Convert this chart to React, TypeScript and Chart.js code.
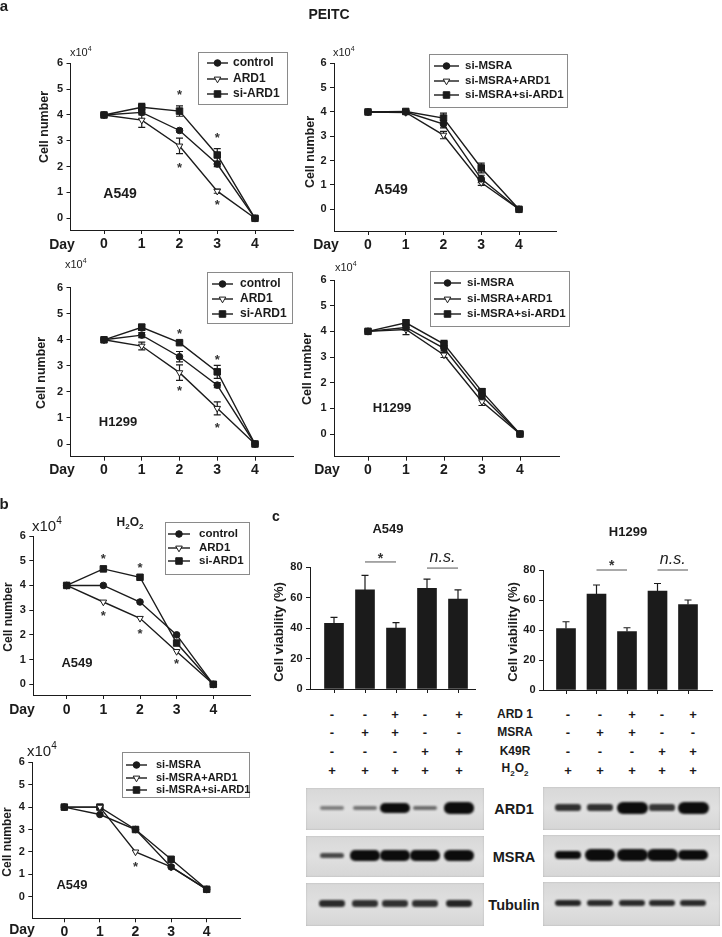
import React, { useEffect, useRef } from "react";
import { Chart, registerables } from "chart.js";
Chart.register(...registerables);

const W = 722;
const H = 937;
const FONT = '"Liberation Sans", Arial, Helvetica, sans-serif';
const INK = "#1b1b1b";

// ---------- shared axes ----------
const days = [0, 1, 2, 3, 4];
const cellTicks = [0, 1, 2, 3, 4, 5, 6];
const viabilityTicks = [0, 20, 40, 60, 80];
const lanes = [0, 1, 2, 3, 4];

// ---------- panel a : PEITC ----------
const ardNames = ["control", "ARD1", "si-ARD1"];
const msraNames = ["si-MSRA", "si-MSRA+ARD1", "si-MSRA+si-ARD1"];

const peitcA549Control = [4, 4.1, 3.4, 2.1, 0];
const peitcA549Ard1 = [4, 3.8, 2.8, 1.05, 0];
const peitcA549SiArd1 = [4, 4.3, 4.15, 2.45, 0];
const peitcA549ControlErr = [0, 0.1, 0.06, 0.1, 0];
const peitcA549Ard1Err = [0, 0.28, 0.3, 0.08, 0];
const peitcA549SiArd1Err = [0, 0.15, 0.2, 0.25, 0];
const peitcA549Stars = [[2, 4.85], [2, 2.05], [3, 3.2], [3, 0.6]];

const peitcA549SiMsra = [4, 4, 3.5, 1.25, 0];
const peitcA549SiMsraArd1 = [4, 3.98, 3.05, 1.1, 0];
const peitcA549SiMsraSiArd1 = [4, 4.02, 3.75, 1.7, 0];
const peitcA549SiMsraErr = [0, 0.05, 0.15, 0.15, 0];
const peitcA549SiMsraArd1Err = [0, 0.05, 0.15, 0.12, 0];
const peitcA549SiMsraSiArd1Err = [0, 0.05, 0.2, 0.2, 0];

const peitcH1299Control = [4, 4.18, 3.35, 2.26, 0];
const peitcH1299Ard1 = [4, 3.76, 2.74, 1.37, 0];
const peitcH1299SiArd1 = [4, 4.48, 3.89, 2.77, 0];
const peitcH1299ControlErr = [0, 0.1, 0.2, 0.1, 0];
const peitcH1299Ard1Err = [0, 0.15, 0.3, 0.25, 0];
const peitcH1299SiArd1Err = [0, 0.12, 0.05, 0.25, 0];
const peitcH1299Stars = [[2, 4.32], [2, 2.13], [3, 3.32], [3, 0.7]];

const peitcH1299SiMsra = [4, 4.15, 3.34, 1.48, 0];
const peitcH1299SiMsraArd1 = [4, 4.07, 3.08, 1.26, 0];
const peitcH1299SiMsraSiArd1 = [4, 4.33, 3.5, 1.65, 0];
const peitcH1299SiMsraErr = [0, 0.1, 0.1, 0.1, 0];
const peitcH1299SiMsraArd1Err = [0, 0.2, 0.1, 0.15, 0];
const peitcH1299SiMsraSiArd1Err = [0, 0.12, 0.15, 0.12, 0];

// ---------- panel b : H2O2 ----------
const h2o2Control = [4, 4, 3.33, 2.0, 0];
const h2o2Ard1 = [4, 3.33, 2.67, 1.33, 0];
const h2o2SiArd1 = [4, 4.67, 4.33, 1.67, 0];
const h2o2ArdStars = [[1, 5.15], [1, 2.87], [2, 4.8], [2, 2.12], [3, 0.92]];

const h2o2SiMsra = [4, 3.67, 3.0, 1.33, 0.33];
const h2o2SiMsraArd1 = [4, 4, 2.0, 1.33, 0.33];
const h2o2SiMsraSiArd1 = [4, 4, 3.0, 1.67, 0.33];
const h2o2MsraStars = [[2, 1.45]];

// ---------- panel c : viability ----------
const viabilityA549 = [43, 65, 40, 66, 59];
const viabilityA549Err = [4, 9.5, 3.5, 6, 6];
const viabilityH1299 = [41, 64, 39, 66, 57];
const viabilityH1299Err = [4.5, 6, 2.5, 5, 3];

const ard1Signs = ["-", "-", "+", "-", "+"];
const msraSigns = ["-", "+", "+", "-", "-"];
const k49rSigns = ["-", "-", "-", "+", "+"];
const h2o2Signs = ["+", "+", "+", "+", "+"];

// relative band amounts on the blots
const blotA549Ard1 = [0.12, 0.15, 0.85, 0.18, 0.9];
const blotA549Msra = [0.3, 0.8, 0.8, 0.8, 0.9];
const blotA549Tubulin = [0.4, 0.38, 0.38, 0.38, 0.42];
const blotH1299Ard1 = [0.38, 0.38, 1.0, 0.36, 1.0];
const blotH1299Msra = [0.5, 0.92, 1.0, 1.0, 0.8];
const blotH1299Tubulin = [0.42, 0.4, 0.4, 0.4, 0.4];

// ---------- drawing helpers ----------
type Seg = { t: string; sup?: boolean; sub?: boolean };
type Txt = {
  s: string | Seg[];
  x: number;
  y: number;
  size: number;
  weight?: string;
  italic?: boolean;
  rot?: boolean;
  align?: "left" | "center";
};

function drawTxt(ctx: CanvasRenderingContext2D, t: Txt) {
  const segs: Seg[] = typeof t.s === "string" ? [{ t: t.s }] : t.s;
  const w = t.weight ?? "bold";
  const fontFor = (g: Seg) =>
    `${t.italic ? "italic " : ""}${w} ${g.sup || g.sub ? Math.round(t.size * 0.68) : t.size}px ${FONT}`;
  ctx.save();
  ctx.fillStyle = INK;
  ctx.textBaseline = "middle";
  ctx.textAlign = "left";
  let total = 0;
  const widths = segs.map((g) => {
    ctx.font = fontFor(g);
    const m = ctx.measureText(g.t).width;
    total += m;
    return m;
  });
  ctx.translate(t.x, t.y);
  if (t.rot) ctx.rotate(-Math.PI / 2);
  let x = t.align === "left" ? 0 : -total / 2;
  segs.forEach((g, i) => {
    ctx.font = fontFor(g);
    const dy = g.sup ? -t.size * 0.38 : g.sub ? t.size * 0.3 : 0;
    ctx.fillText(g.t, x, dy);
    x += widths[i];
  });
  ctx.restore();
}

const markers = [
  { style: "circle", r: 3.3, fill: INK, rot: 0 },
  { style: "triangle", r: 3.8, fill: "#ffffff", rot: 180 },
  { style: "rect", r: 4.6, fill: INK, rot: 0 },
];

function drawMarker(ctx: CanvasRenderingContext2D, m: any, x: number, y: number) {
  ctx.beginPath();
  if (m.style === "circle") ctx.arc(x, y, m.r, 0, Math.PI * 2);
  else if (m.style === "rect") {
    const s = m.r * Math.SQRT1_2;
    ctx.rect(x - s, y - s, 2 * s, 2 * s);
  } else {
    let a = (m.rot * Math.PI) / 180;
    ctx.moveTo(x + Math.sin(a) * m.r, y - Math.cos(a) * m.r);
    a += (2 * Math.PI) / 3;
    ctx.lineTo(x + Math.sin(a) * m.r, y - Math.cos(a) * m.r);
    a += (2 * Math.PI) / 3;
    ctx.lineTo(x + Math.sin(a) * m.r, y - Math.cos(a) * m.r);
    ctx.closePath();
  }
  ctx.fillStyle = m.fill;
  ctx.fill();
  ctx.strokeStyle = INK;
  ctx.lineWidth = 1;
  ctx.stroke();
}

function drawStar(ctx: CanvasRenderingContext2D, x: number, y: number, size: number) {
  ctx.save();
  ctx.fillStyle = "#333";
  ctx.font = `bold ${size}px ${FONT}`;
  ctx.textAlign = "center";
  ctx.textBaseline = "middle";
  ctx.fillText("*", x, y + size * 0.22);
  ctx.restore();
}

const YW = 30;
const XH = 30;

function axisCommon(size: number, pad: number) {
  return {
    grid: { display: true, drawOnChartArea: false, drawTicks: true, tickLength: 4, color: INK, tickColor: INK, lineWidth: 1, offset: false },
    border: { display: true, color: INK, width: 1 },
    ticks: { font: { family: FONT, size, weight: "bold" }, color: INK, padding: pad, maxRotation: 0, autoSkip: false },
  };
}

type LinePanel = {
  names: string[];
  series: number[][];
  errors?: number[][];
  stars: number[][];
  starSize: number;
  frame: { px0: number; px4: number; py0: number; py6: number; left: number; right: number; bottom: number };
  xFont: number;
  xPad: number;
  yFont: number;
  legend: { x: number; y: number; w: number; h: number; rows: number[]; l0: number; l1: number; tx: number; size: number };
  texts: Txt[];
};

function lineConfig(p: LinePanel): any {
  const f = p.frame;
  const sx = (f.px4 - f.px0) / 4;
  const sy = (f.py0 - f.py6) / 6;
  const xmin = (f.left - f.px0) / sx;
  const xmax = (f.right - f.px0) / sx;
  const ymin = -(f.bottom - f.py0) / sy;
  const xa = axisCommon(p.xFont, p.xPad);
  const ya = axisCommon(p.yFont, 3.5);
  const plugin = {
    id: "decor",
    beforeDatasetsDraw(chart: any) {
      if (!p.errors) return;
      const ctx = chart.ctx as CanvasRenderingContext2D;
      const xs = chart.scales.x;
      const ys = chart.scales.y;
      ctx.save();
      ctx.strokeStyle = INK;
      ctx.lineWidth = 1.2;
      p.errors.forEach((errs, i) => {
        errs.forEach((e, j) => {
          if (!e) return;
          const v = p.series[i][j];
          const x = xs.getPixelForValue(days[j]);
          const y1 = ys.getPixelForValue(v + e);
          const y2 = ys.getPixelForValue(v - e);
          ctx.beginPath();
          ctx.moveTo(x, y1);
          ctx.lineTo(x, y2);
          ctx.moveTo(x - 3.5, y1);
          ctx.lineTo(x + 3.5, y1);
          ctx.moveTo(x - 3.5, y2);
          ctx.lineTo(x + 3.5, y2);
          ctx.stroke();
        });
      });
      ctx.restore();
    },
    afterDraw(chart: any) {
      const ctx = chart.ctx as CanvasRenderingContext2D;
      const xs = chart.scales.x;
      const ys = chart.scales.y;
      p.stars.forEach(([d, v]) => drawStar(ctx, xs.getPixelForValue(d), ys.getPixelForValue(v), p.starSize));
      const L = p.legend;
      ctx.save();
      ctx.strokeStyle = "#8a8a8a";
      ctx.lineWidth = 1;
      ctx.strokeRect(L.x + 0.5, L.y + 0.5, L.w, L.h);
      ctx.restore();
      p.names.forEach((n, i) => {
        const y = L.rows[i];
        ctx.save();
        ctx.strokeStyle = INK;
        ctx.lineWidth = 1.4;
        ctx.beginPath();
        ctx.moveTo(L.l0, y);
        ctx.lineTo(L.l1, y);
        ctx.stroke();
        drawMarker(ctx, markers[i], (L.l0 + L.l1) / 2, y);
        ctx.restore();
        drawTxt(ctx, { s: n, x: L.tx, y, size: L.size, align: "left" });
      });
      p.texts.forEach((t) => drawTxt(ctx, t));
    },
  };
  return {
    type: "line",
    data: {
      datasets: p.series.map((vals, i) => ({
        label: p.names[i],
        data: days.map((d, j) => ({ x: d, y: vals[j] })),
        borderColor: INK,
        borderWidth: 1.4,
        pointStyle: markers[i].style,
        pointRadius: markers[i].r,
        pointRotation: markers[i].rot,
        pointBackgroundColor: markers[i].fill,
        pointBorderColor: INK,
        pointBorderWidth: 1,
        tension: 0,
        fill: false,
        clip: false,
      })),
    },
    options: {
      responsive: false,
      animation: false,
      events: [],
      layout: { padding: { left: f.left - YW, right: W - f.right, top: f.py6, bottom: H - f.bottom - XH } },
      plugins: { legend: { display: false }, tooltip: { enabled: false }, title: { display: false } },
      scales: {
        x: {
          type: "linear",
          min: xmin,
          max: xmax,
          offset: false,
          afterBuildTicks: (s: any) => {
            s.ticks = days.map((v) => ({ value: v }));
          },
          afterFit: (s: any) => {
            s.height = XH;
          },
          ...xa,
        },
        y: {
          type: "linear",
          min: ymin,
          max: 6,
          afterBuildTicks: (s: any) => {
            s.ticks = cellTicks.map((v) => ({ value: v }));
          },
          afterFit: (s: any) => {
            s.width = YW;
          },
          ...ya,
        },
      },
    },
    plugins: [plugin],
  };
}

type Bracket = { from: number; to: number; level: number; label: string; labelAt: number; italic: boolean; size: number };
type BarPanel = {
  values: number[];
  errors: number[];
  brackets: Bracket[];
  frame: { px0: number; px4: number; left: number; right: number; top: number; bottom: number };
  texts: Txt[];
};

function barConfig(p: BarPanel): any {
  const f = p.frame;
  const sx = (f.px4 - f.px0) / 4;
  const xmin = (f.left - f.px0) / sx;
  const xmax = (f.right - f.px0) / sx;
  const xa = axisCommon(10, 2);
  const ya = axisCommon(11, 3.5);
  const plugin = {
    id: "decorBar",
    afterDraw(chart: any) {
      const ctx = chart.ctx as CanvasRenderingContext2D;
      const xs = chart.scales.x;
      const ys = chart.scales.y;
      ctx.save();
      ctx.strokeStyle = INK;
      ctx.lineWidth = 1.2;
      p.errors.forEach((e, j) => {
        const x = xs.getPixelForValue(lanes[j]);
        const y1 = ys.getPixelForValue(p.values[j]);
        const y2 = ys.getPixelForValue(p.values[j] + e);
        ctx.beginPath();
        ctx.moveTo(x, y1);
        ctx.lineTo(x, y2);
        ctx.moveTo(x - 3.5, y2);
        ctx.lineTo(x + 3.5, y2);
        ctx.stroke();
      });
      ctx.strokeStyle = "#555";
      ctx.lineWidth = 1;
      p.brackets.forEach((b) => {
        const y = ys.getPixelForValue(b.level);
        ctx.beginPath();
        ctx.moveTo(xs.getPixelForValue(b.from), y);
        ctx.lineTo(xs.getPixelForValue(b.to), y);
        ctx.stroke();
      });
      ctx.restore();
      p.brackets.forEach((b) => {
        const x = (xs.getPixelForValue(b.from) + xs.getPixelForValue(b.to)) / 2;
        const y = ys.getPixelForValue(b.labelAt);
        if (b.label === "*") drawStar(ctx, x, y, b.size);
        else drawTxt(ctx, { s: b.label, x, y, size: b.size, weight: "normal", italic: b.italic });
      });
      p.texts.forEach((t) => drawTxt(ctx, t));
    },
  };
  return {
    type: "bar",
    data: {
      datasets: [
        {
          data: lanes.map((l, j) => ({ x: l, y: p.values[j] })),
          backgroundColor: INK,
          borderWidth: 0,
          barThickness: 19,
        },
      ],
    },
    options: {
      responsive: false,
      animation: false,
      events: [],
      layout: { padding: { left: f.left - YW, right: W - f.right, top: f.top, bottom: H - f.bottom - XH } },
      plugins: { legend: { display: false }, tooltip: { enabled: false } },
      scales: {
        x: {
          type: "linear",
          min: xmin,
          max: xmax,
          offset: false,
          afterBuildTicks: (s: any) => {
            s.ticks = lanes.map((v) => ({ value: v }));
          },
          afterFit: (s: any) => {
            s.height = XH;
          },
          ...xa,
          ticks: { ...xa.ticks, callback: () => "" },
        },
        y: {
          type: "linear",
          min: 0,
          max: 80,
          afterBuildTicks: (s: any) => {
            s.ticks = viabilityTicks.map((v) => ({ value: v }));
          },
          afterFit: (s: any) => {
            s.width = YW;
          },
          ...ya,
        },
      },
    },
    plugins: [plugin],
  };
}

const x104: Seg[] = [{ t: "x10" }, { t: "4", sup: true }];

const panels: any[] = [
  lineConfig({
    names: ardNames,
    series: [peitcA549Control, peitcA549Ard1, peitcA549SiArd1],
    errors: [peitcA549ControlErr, peitcA549Ard1Err, peitcA549SiArd1Err],
    stars: peitcA549Stars,
    starSize: 13,
    frame: { px0: 104, px4: 255, py0: 218.3, py6: 63.3, left: 70.5, right: 293, bottom: 230 },
    xFont: 14,
    xPad: 2,
    yFont: 11,
    legend: { x: 198, y: 52, w: 89, h: 52, rows: [63, 79, 94], l0: 207, l1: 228, tx: 233, size: 12 },
    texts: [
      { s: "a", x: 4, y: 7, size: 15 },
      { s: "PEITC", x: 329, y: 15, size: 14 },
      { s: x104, x: 70, y: 53, size: 11, weight: "normal", align: "left" },
      { s: "Cell number", x: 45, y: 127, size: 12.5, rot: true },
      { s: "A549", x: 120, y: 194, size: 14 },
      { s: "Day", x: 62, y: 245, size: 14 },
    ],
  }),
  lineConfig({
    names: msraNames,
    series: [peitcA549SiMsra, peitcA549SiMsraArd1, peitcA549SiMsraSiArd1],
    errors: [peitcA549SiMsraErr, peitcA549SiMsraArd1Err, peitcA549SiMsraSiArd1Err],
    stars: [],
    starSize: 13,
    frame: { px0: 368, px4: 519, py0: 209.3, py6: 63.3, left: 334, right: 556, bottom: 231 },
    xFont: 14,
    xPad: 2,
    yFont: 11,
    legend: { x: 429, y: 54, w: 138, h: 53, rows: [66, 81, 95], l0: 434, l1: 459, tx: 465, size: 11.5 },
    texts: [
      { s: x104, x: 333, y: 53, size: 11, weight: "normal", align: "left" },
      { s: "Cell number", x: 311, y: 152, size: 12.5, rot: true },
      { s: "A549", x: 391, y: 190, size: 14 },
      { s: "Day", x: 326, y: 245, size: 14 },
    ],
  }),
  lineConfig({
    names: ardNames,
    series: [peitcH1299Control, peitcH1299Ard1, peitcH1299SiArd1],
    errors: [peitcH1299ControlErr, peitcH1299Ard1Err, peitcH1299SiArd1Err],
    stars: peitcH1299Stars,
    starSize: 13,
    frame: { px0: 104, px4: 255, py0: 444, py6: 287.7, left: 70.5, right: 293, bottom: 456.7 },
    xFont: 14,
    xPad: 1,
    yFont: 11,
    legend: { x: 207, y: 272, w: 85, h: 51, rows: [284, 299, 314], l0: 212, l1: 233, tx: 240, size: 12 },
    texts: [
      { s: x104, x: 65, y: 265, size: 11, weight: "normal", align: "left" },
      { s: "Cell number", x: 42, y: 373, size: 12.5, rot: true },
      { s: "H1299", x: 118, y: 422, size: 13 },
      { s: "Day", x: 62, y: 470, size: 14 },
    ],
  }),
  lineConfig({
    names: msraNames,
    series: [peitcH1299SiMsra, peitcH1299SiMsraArd1, peitcH1299SiMsraSiArd1],
    errors: [peitcH1299SiMsraErr, peitcH1299SiMsraArd1Err, peitcH1299SiMsraSiArd1Err],
    stars: [],
    starSize: 13,
    frame: { px0: 368, px4: 520, py0: 434, py6: 280, left: 334, right: 559, bottom: 456.7 },
    xFont: 14,
    xPad: 1,
    yFont: 11,
    legend: { x: 430, y: 271, w: 139, h: 55, rows: [283, 299, 314], l0: 434, l1: 461, tx: 467, size: 11.5 },
    texts: [
      { s: x104, x: 335, y: 268, size: 11, weight: "normal", align: "left" },
      { s: "Cell number", x: 308, y: 369, size: 12.5, rot: true },
      { s: "H1299", x: 392, y: 408, size: 13 },
      { s: "Day", x: 327, y: 470, size: 14 },
    ],
  }),
  lineConfig({
    names: ardNames,
    series: [h2o2Control, h2o2Ard1, h2o2SiArd1],
    stars: h2o2ArdStars,
    starSize: 13,
    frame: { px0: 66.7, px4: 213.3, py0: 684.3, py6: 536, left: 33.3, right: 250, bottom: 695 },
    xFont: 14,
    xPad: 3,
    yFont: 11,
    legend: { x: 165, y: 522, w: 84, h: 52, rows: [534, 548, 561], l0: 168, l1: 190, tx: 199, size: 11.5 },
    texts: [
      { s: "b", x: 4, y: 505, size: 15 },
      { s: x104, x: 32, y: 527, size: 15, weight: "normal", align: "left" },
      { s: [{ t: "H" }, { t: "2", sub: true }, { t: "O" }, { t: "2", sub: true }], x: 130, y: 523, size: 12 },
      { s: "Cell number", x: 9, y: 617, size: 12, rot: true },
      { s: "A549", x: 77, y: 663, size: 13 },
      { s: "Day", x: 22, y: 710, size: 14 },
    ],
  }),
  lineConfig({
    names: msraNames,
    series: [h2o2SiMsra, h2o2SiMsraArd1, h2o2SiMsraSiArd1],
    stars: h2o2MsraStars,
    starSize: 13,
    frame: { px0: 64.3, px4: 206.7, py0: 896.7, py6: 762.3, left: 32.3, right: 240, bottom: 918.3 },
    xFont: 14,
    xPad: 1,
    yFont: 11,
    legend: { x: 122, y: 752, w: 127, h: 45, rows: [765, 778, 790], l0: 126, l1: 147, tx: 156, size: 11 },
    texts: [
      { s: x104, x: 27, y: 752, size: 15, weight: "normal", align: "left" },
      { s: "Cell number", x: 8, y: 842, size: 12, rot: true },
      { s: "A549", x: 72, y: 885, size: 13 },
      { s: "Day", x: 22, y: 930, size: 14 },
    ],
  }),
  barConfig({
    values: viabilityA549,
    errors: viabilityA549Err,
    brackets: [
      { from: 1, to: 2, level: 83.3, label: "*", labelAt: 87.5, italic: false, size: 14 },
      { from: 3, to: 4, level: 79.3, label: "n.s.", labelAt: 86.5, italic: true, size: 16 },
    ],
    frame: { px0: 334, px4: 458, left: 310, right: 475, top: 567, bottom: 689 },
    texts: [
      { s: "c", x: 276, y: 517, size: 14 },
      { s: "A549", x: 388, y: 529, size: 13 },
      { s: "Cell viability (%)", x: 279, y: 632, size: 13, rot: true },
    ],
  }),
  barConfig({
    values: viabilityH1299,
    errors: viabilityH1299Err,
    brackets: [
      { from: 1, to: 2, level: 80, label: "*", labelAt: 84.5, italic: false, size: 14 },
      { from: 3, to: 4, level: 80, label: "n.s.", labelAt: 86.7, italic: true, size: 16 },
    ],
    frame: { px0: 566, px4: 688, left: 543, right: 712, top: 570, bottom: 690 },
    texts: [
      { s: "H1299", x: 628, y: 532, size: 13 },
      { s: "Cell viability (%)", x: 513, y: 632, size: 13, rot: true },
    ],
  }),
];

// ---------- html layout of the treatment table and blots ----------
const leftLaneX = [332, 365, 395, 425, 459];
const rightLaneX = [568, 600, 632, 662, 693];
const signRowY = [714, 732, 751, 770];
const signRows = [ard1Signs, msraSigns, k49rSigns, h2o2Signs];
const signLabels: React.ReactNode[] = [
  "ARD 1",
  "MSRA",
  "K49R",
  <span key="h">
    H<sub style={{ fontSize: 8 }}>2</sub>O<sub style={{ fontSize: 8 }}>2</sub>
  </span>,
];
const blotRows = [
  { label: "ARD1", top: 788, bottom: 830, left: blotA549Ard1, right: blotH1299Ard1 },
  { label: "MSRA", top: 836, bottom: 877, left: blotA549Msra, right: blotH1299Msra },
  { label: "Tubulin", top: 883, bottom: 926, left: blotA549Tubulin, right: blotH1299Tubulin },
];

function Centered({ x, y, size, children, weight = "bold" }: any) {
  return (
    <div
      style={{
        position: "absolute",
        left: x,
        top: y,
        transform: "translate(-50%, -50%)",
        fontFamily: FONT,
        fontWeight: weight as any,
        fontSize: size,
        lineHeight: 1,
        color: INK,
        whiteSpace: "nowrap",
      }}
    >
      {children}
    </div>
  );
}

function Blot({ x0, x1, top, bottom, amounts, lanesX }: any) {
  const cy = (top + bottom) / 2 - 1;
  return (
    <>
      <div
        style={{
          position: "absolute",
          left: x0,
          top,
          width: x1 - x0,
          height: bottom - top,
          background: "linear-gradient(#d8d8d8, #e0e0e0 50%, #d6d6d6)",
          boxShadow: "inset 0 0 2px rgba(0,0,0,0.2)",
        }}
      />
      {amounts.map((a: number, i: number) => {
        const w = 22 + 9 * a;
        const h = 3 + 9 * a;
        const alpha = Math.min(1, 0.3 + 1.4 * a);
        return (
          <div
            key={i}
            style={{
              position: "absolute",
              left: lanesX[i] - w / 2,
              top: cy - h / 2,
              width: w,
              height: h,
              borderRadius: `${h / 2}px`,
              background: `rgba(12,12,12,${alpha})`,
              filter: "blur(1.1px)",
            }}
          />
        );
      })}
    </>
  );
}

export default function App() {
  const refs = useRef<(HTMLCanvasElement | null)[]>([]);
  useEffect(() => {
    const charts = panels.map((cfg, i) => new Chart(refs.current[i] as HTMLCanvasElement, cfg));
    return () => charts.forEach((c) => c.destroy());
  }, []);
  return (
    <div style={{ position: "absolute", left: 0, top: 0, width: W, height: H, background: "#fff", overflow: "hidden" }}>
      {blotRows.map((r, k) => (
        <React.Fragment key={k}>
          <Blot x0={306} x1={484} top={r.top} bottom={r.bottom} amounts={r.left} lanesX={leftLaneX} />
          <Blot x0={543} x1={720} top={r.top - 1} bottom={r.bottom} amounts={r.right} lanesX={rightLaneX} />
          <Centered x={514} y={(r.top + r.bottom) / 2} size={14.5}>
            {r.label}
          </Centered>
        </React.Fragment>
      ))}
      {signRows.map((row, r) => (
        <React.Fragment key={r}>
          {row.map((s, i) => (
            <Centered key={"l" + i} x={leftLaneX[i]} y={signRowY[r]} size={13}>
              {s}
            </Centered>
          ))}
          {row.map((s, i) => (
            <Centered key={"r" + i} x={rightLaneX[i]} y={signRowY[r]} size={13}>
              {s}
            </Centered>
          ))}
          <Centered x={515} y={signRowY[r]} size={12}>
            {signLabels[r]}
          </Centered>
        </React.Fragment>
      ))}
      {panels.map((_, i) => (
        <canvas
          key={i}
          ref={(el) => {
            refs.current[i] = el;
          }}
          width={W}
          height={H}
          style={{ position: "absolute", left: 0, top: 0, width: W, height: H }}
        />
      ))}
    </div>
  );
}
